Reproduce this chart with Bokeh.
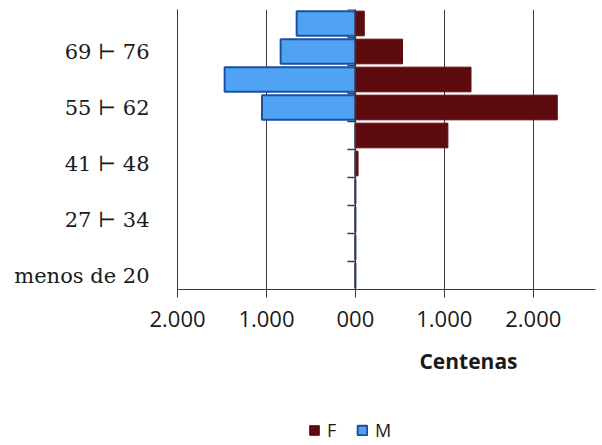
from bokeh.plotting import figure
from bokeh.layouts import column
from bokeh.models import (Range1d, FactorRange, FixedTicker, Span, Label, Legend,
                          LegendItem, ColumnDataSource, CustomJSTickFormatter)
from bokeh.embed import file_html
from bokeh.resources import INLINE

# ---- data (in "centenas") ----
categories = ["menos de 20", "20 ⊢ 27", "27 ⊢ 34", "34 ⊢ 41", "41 ⊢ 48",
              "48 ⊢ 55", "55 ⊢ 62", "62 ⊢ 69", "69 ⊢ 76", "76 ⊢ 83"]
shown_labels = ["menos de 20", "27 ⊢ 34", "41 ⊢ 48", "55 ⊢ 62", "69 ⊢ 76"]
F_values = [0, 0, 0, 0, 30, 1040, 2270, 1300, 530, 100]
M_values = [0, 0, 0, 0, 0, 0, -1050, -1470, -840, -660]
x_ticks = [-2000, -1000, 0, 1000, 2000]
x_tick_labels = ["2.000", "1.000", "000", "1.000", "2.000"]
series_names = ["F", "M"]

F_COLOR = "#5e0b10"
M_FILL = "#4fa3f2"
M_LINE = "#1d4f9e"
AX = "#3a3a3a"

src = ColumnDataSource(dict(cat=categories, f=F_values, m=M_values))

# ---------------- main chart ----------------
p = figure(width=602, height=339,
           y_range=FactorRange(*categories),
           x_range=Range1d(-2000, 2700),
           output_backend="svg", toolbar_location=None,
           min_border_left=177, min_border_right=7,
           min_border_top=9, min_border_bottom=50)
p.outline_line_color = None
p.background_fill_color = "white"
p.border_fill_color = "white"

p.ygrid.grid_line_color = None
p.xgrid.ticker = FixedTicker(ticks=x_ticks)
p.xgrid.grid_line_color = AX
p.xgrid.grid_line_width = 1

p.xaxis.ticker = FixedTicker(ticks=x_ticks)
p.xaxis.major_label_overrides = {t: l for t, l in zip(x_ticks, x_tick_labels)}
p.xaxis.axis_line_color = AX
p.xaxis.axis_line_width = 1.2
p.xaxis.major_tick_line_color = AX
p.xaxis.major_tick_in = 0
p.xaxis.major_tick_out = 8
p.xaxis.minor_tick_line_color = None
p.xaxis.major_label_text_font = "Open Sans"
p.xaxis.major_label_text_font_size = "22px"
p.xaxis.major_label_text_color = "#1a1a1a"
p.xaxis.major_label_standoff = 13

p.yaxis.axis_line_color = AX
p.yaxis.major_tick_line_color = None
p.yaxis.minor_tick_line_color = None
p.yaxis.formatter = CustomJSTickFormatter(
    args=dict(shown=shown_labels),
    code="return shown.includes(tick) ? tick : '';")
p.yaxis.major_label_text_font = "DejaVu Serif"
p.yaxis.major_label_text_font_size = "21px"
p.yaxis.major_label_text_color = "#1a1a1a"
p.yaxis.major_label_standoff = 22

# category ticks on the zero line
bounds = list(range(1, len(categories) + 1))
p.segment(x0=-90, x1=0, y0=bounds, y1=bounds, line_color=AX, line_width=1.5)

p.hbar(y="cat", left="m", right=0, height=0.88, source=src,
       fill_color=M_FILL, line_color=M_LINE, line_width=2)
p.hbar(y="cat", left=0, right="f", height=0.88, source=src,
       fill_color=F_COLOR, line_color=F_COLOR, line_width=1)

p.add_layout(Span(location=0, dimension="height", line_color=AX, line_width=1.5))

# ---------------- strip below: axis title + legend ----------------
# (frames in a column are aligned, so this strip's frame starts at x=177)
p2 = figure(width=602, height=106, x_range=Range1d(0, 1), y_range=Range1d(0, 1),
            output_backend="svg", toolbar_location=None,
            x_axis_location=None, y_axis_location=None,
            min_border=0, min_border_left=0, min_border_right=0,
            min_border_top=0, min_border_bottom=0)
p2.outline_line_color = None
p2.grid.visible = False
p2.background_fill_color = "white"
p2.border_fill_color = "white"

p2.add_layout(Label(x=291, y=85, x_units="screen", y_units="screen",
                    text="Centenas", text_align="center", text_baseline="middle",
                    text_font="Open Sans", text_font_style="bold",
                    text_font_size="21px", text_color="#1a1a1a"))

# legend-key renderers (kept outside the visible range of this strip)
key_src = ColumnDataSource(dict(y=[-1], left=[0], right=[0]))
kf = p2.hbar(y="y", left="left", right="right", height=0.1, source=key_src,
             fill_color=F_COLOR, line_color=F_COLOR, line_width=1)
km = p2.hbar(y="y", left="left", right="right", height=0.1, source=key_src,
             fill_color=M_FILL, line_color=M_LINE, line_width=2)

legend = Legend(items=[LegendItem(label=series_names[0], renderers=[kf]),
                       LegendItem(label=series_names[1], renderers=[km])],
                orientation="horizontal", location=(131, 3),
                glyph_width=12, glyph_height=12, label_standoff=7, spacing=9,
                padding=0, margin=0, border_line_color=None,
                background_fill_alpha=0,
                label_text_font="Open Sans", label_text_font_size="18px",
                label_text_color="#1a1a1a")
p2.add_layout(legend)

page = column(p, p2, spacing=0)
open("out.html", "w").write(file_html(page, INLINE))
